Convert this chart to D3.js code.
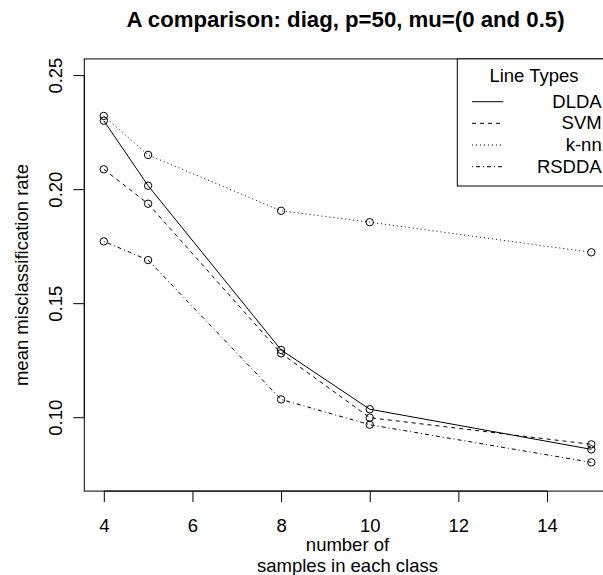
<!DOCTYPE html>
<html><head><meta charset="utf-8">
<script src="https://cdn.jsdelivr.net/npm/d3@7"></script>
<style>body{margin:0;background:#fff}svg{display:block}text{font-family:"Liberation Sans",Arial,sans-serif}</style>
</head><body><svg id="c" width="603" height="575"></svg>
<script>
const samples = [4, 5, 8, 10, 15];
const dlda  = [0.2300, 0.2015, 0.1295, 0.1035, 0.0859];
const svm   = [0.2087, 0.1936, 0.1280, 0.0998, 0.0881];
const knn   = [0.2321, 0.2150, 0.1905, 0.1855, 0.1723];
const rsdda = [0.1771, 0.1689, 0.1078, 0.0967, 0.0802];
const seriesNames = ["DLDA", "SVM", "k-nn", "RSDDA"];
const xTicks = [4, 6, 8, 10, 12, 14];
const yTicks = [0.10, 0.15, 0.20, 0.25];

const dashes = ["none", "4,4", "1,3", "1,3,4,3"];
const series = [dlda, svm, knn, rsdda];
const FS = 18.5;

const svg = d3.select("#c");
const x = d3.scaleLinear().domain([4, 14]).range([103.8, 547]);
const y = d3.scaleLinear().domain([0.10, 0.25]).range([417.2, 75.1]);
const L = x(3.56), R = x(15.44), T = y(0.2571), B = y(0.0676);

// box
svg.append("rect").attr("x", L).attr("y", T).attr("width", R - L).attr("height", B - T)
  .attr("fill", "none").attr("stroke", "#000").attr("stroke-width", 1);

// x axis
const xa = svg.append("g").attr("transform", `translate(0,${B})`)
  .call(d3.axisBottom(x).tickValues(xTicks).tickFormat(d3.format("d")).tickSize(11).tickPadding(8));
xa.select(".domain").attr("d", `M${x(4)},0H${x(14)}`);
xa.selectAll(".tick text").attr("font-size", FS).attr("font-family", "Liberation Sans, Arial, sans-serif")
  .attr("fill", "#000").attr("y", 0).attr("dy", 0).attr("transform", `translate(0,${531.5 - B})`);

// y axis
const ya = svg.append("g").attr("transform", `translate(${L},0)`)
  .call(d3.axisLeft(y).tickValues(yTicks).tickFormat(d3.format(".2f")).tickSize(11).tickPadding(0));
ya.select(".domain").attr("d", `M0,${y(0.10)}V${y(0.25)}`);
ya.selectAll(".tick text").attr("font-size", FS).attr("font-family", "Liberation Sans, Arial, sans-serif")
  .attr("fill", "#000").attr("text-anchor", "middle").attr("x", 0).attr("dy", 0)
  .attr("transform", `translate(${61.8 - L},0) rotate(-90)`);

// lines and points
const line = d3.line().x((d, i) => x(samples[i])).y(d => y(d));
series.forEach((s, k) => {
  svg.append("path").datum(s).attr("d", line).attr("fill", "none").attr("stroke", "#000")
    .attr("stroke-width", 1).attr("stroke-dasharray", dashes[k]);
  svg.selectAll(null).data(s).enter().append("circle")
    .attr("cx", (d, i) => x(samples[i])).attr("cy", d => y(d)).attr("r", 3.7)
    .attr("fill", "none").attr("stroke", "#000").attr("stroke-width", 1);
});

// title
svg.append("text").attr("x", 345.5).attr("y", 27.3).attr("text-anchor", "middle")
  .attr("font-size", 22.2).attr("font-weight", "bold").text("A comparison: diag, p=50, mu=(0 and 0.5)");

// axis titles
svg.append("text").attr("x", 347.5).attr("y", 551).attr("text-anchor", "middle").attr("font-size", FS).text("number of");
svg.append("text").attr("x", 347.5).attr("y", 572).attr("text-anchor", "middle").attr("font-size", FS).text("samples in each class");
svg.append("text").attr("transform", `translate(28.4,${(T + B) / 2}) rotate(-90)`).attr("text-anchor", "middle")
  .attr("font-size", FS).text("mean misclassification rate");

// legend
const lg = svg.append("g");
lg.append("rect").attr("x", 457.3).attr("y", T).attr("width", 170).attr("height", 186 - T)
  .attr("fill", "#fff").attr("stroke", "#000").attr("stroke-width", 1);
lg.append("text").attr("x", 534).attr("y", 81.7).attr("text-anchor", "middle").attr("font-size", FS).text("Line Types");
const rowY = [101.7, 123.3, 145, 166.7];
seriesNames.forEach((n, k) => {
  lg.append("line").attr("x1", 472).attr("x2", 503.3).attr("y1", rowY[k]).attr("y2", rowY[k])
    .attr("stroke", "#000").attr("stroke-width", 1).attr("stroke-dasharray", dashes[k]);
  lg.append("text").attr("x", 601.7).attr("y", rowY[k] + 6).attr("text-anchor", "end").attr("font-size", FS).text(n);
});
</script></body></html>
